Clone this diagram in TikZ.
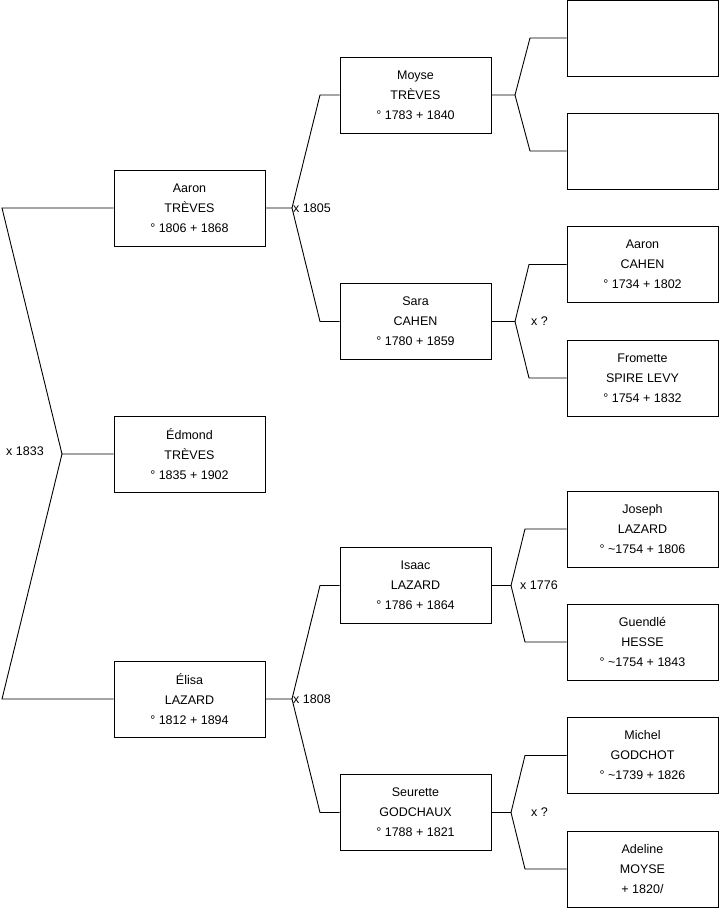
\documentclass[tikz,border=0pt]{standalone}
\usepackage{fontspec}
\setmainfont{Liberation Sans}
\begin{document}
\begin{tikzpicture}[x=1pt,y=-1pt,
  person/.style={draw=black,line width=1pt,fill=white,minimum width=151pt,minimum height=76pt,inner sep=0pt,align=center,font=\fontsize{12.5}{20}\selectfont},
  link/.style={draw=black,line width=0.9pt},
  marr/.style={inner sep=0pt,anchor=west,font=\fontsize{12.5}{14}\selectfont}]
\useasboundingbox (0,0) rectangle (719,908);
\fill[white] (0,0) rectangle (719,908);
% generation 1
\node[person] (aaron) at (189.5,208) {Aaron\\TRÈVES\\° 1806 + 1868};
\node[person] (edmond) at (189.5,454) {Édmond\\TRÈVES\\° 1835 + 1902};
\node[person] (elisa) at (189.5,699) {Élisa\\LAZARD\\° 1812 + 1894};
% generation 2
\node[person] (moyse) at (415.5,95) {Moyse\\TRÈVES\\° 1783 + 1840};
\node[person] (sara) at (415.5,321.5) {Sara\\CAHEN\\° 1780 + 1859};
\node[person] (isaac) at (415.5,585.5) {Isaac\\LAZARD\\° 1786 + 1864};
\node[person] (seurette) at (415.5,812.5) {Seurette\\GODCHAUX\\° 1788 + 1821};
% generation 3
\node[person] (e1) at (642.5,38) {};
\node[person] (e2) at (642.5,151) {};
\node[person] (acahen) at (642.5,264.5) {Aaron\\CAHEN\\° 1734 + 1802};
\node[person] (fromette) at (642.5,378) {Fromette\\SPIRE LEVY\\° 1754 + 1832};
\node[person] (joseph) at (642.5,529) {Joseph\\LAZARD\\° \textasciitilde1754 + 1806};
\node[person] (guendle) at (642.5,642) {Guendlé\\HESSE\\° \textasciitilde1754 + 1843};
\node[person] (michel) at (642.5,755.5) {Michel\\GODCHOT\\° \textasciitilde1739 + 1826};
\node[person] (adeline) at (642.5,869) {Adeline\\MOYSE\\+ 1820/};
% junctions and elbows
\coordinate (j0) at (62,454);
\coordinate (k0a) at (2,208);
\coordinate (k0b) at (2,699);
\coordinate (j1) at (292,208);
\coordinate (k1a) at (320,95);
\coordinate (k1b) at (320,321.5);
\coordinate (j2) at (292,699);
\coordinate (k2a) at (320,585.5);
\coordinate (k2b) at (320,812.5);
\coordinate (j3) at (515,95);
\coordinate (k3a) at (530,38);
\coordinate (k3b) at (530,151);
\coordinate (j4) at (515,321.5);
\coordinate (k4a) at (529,264.5);
\coordinate (k4b) at (529,378);
\coordinate (j5) at (511,585.5);
\coordinate (k5a) at (525,529);
\coordinate (k5b) at (525,642);
\coordinate (j6) at (511,812.5);
\coordinate (k6a) at (525,755.5);
\coordinate (k6b) at (525,869);
% connectors
\draw[link] (edmond.west) -- (j0) -- (k0a) -- (aaron.west);
\draw[link] (j0) -- (k0b) -- (elisa.west);
\draw[link] (aaron.east) -- (j1) -- (k1a) -- (moyse.west);
\draw[link] (j1) -- (k1b) -- (sara.west);
\draw[link] (elisa.east) -- (j2) -- (k2a) -- (isaac.west);
\draw[link] (j2) -- (k2b) -- (seurette.west);
\draw[link] (moyse.east) -- (j3) -- (k3a) -- (e1.west);
\draw[link] (j3) -- (k3b) -- (e2.west);
\draw[link] (sara.east) -- (j4) -- (k4a) -- (acahen.west);
\draw[link] (j4) -- (k4b) -- (fromette.west);
\draw[link] (isaac.east) -- (j5) -- (k5a) -- (joseph.west);
\draw[link] (j5) -- (k5b) -- (guendle.west);
\draw[link] (seurette.east) -- (j6) -- (k6a) -- (michel.west);
\draw[link] (j6) -- (k6b) -- (adeline.west);
% marriage labels
\node[marr] (m0) at (6,451.5) {x 1833};
\node[marr] (m1) at (293,208) {x 1805};
\node[marr] (m2) at (293,699) {x 1808};
\node[marr] (m3) at (531,321) {x ?};
\node[marr] (m4) at (520,585) {x 1776};
\node[marr] (m5) at (531,812) {x ?};
\end{tikzpicture}
\end{document}
